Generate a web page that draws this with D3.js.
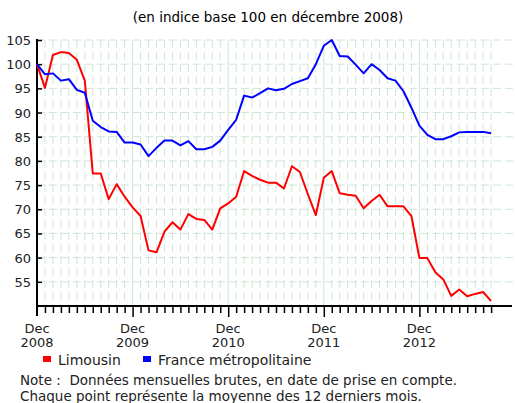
<!DOCTYPE html>
<html>
<head>
<meta charset="utf-8">
<script src="https://cdn.jsdelivr.net/npm/d3@7"></script>
<style>
  body { margin: 0; background: #fff; }
  svg { display: block; font-family: "DejaVu Sans", sans-serif; }
  text { white-space: pre; }
</style>
</head>
<body>
<div id="chart"></div>
<script>
// Indice mensuel, base 100 en décembre 2008 (déc. 2008 -> sept. 2013)
const limousin = [
    100, 95.1, 101.9, 102.5, 102.3, 100.9, 96.6, 77.4, 77.4, 72.1, 75.2, 72.6,
    70.4, 68.6, 61.5, 61.1, 65.4, 67.3, 65.8, 69.0, 68.0, 67.8, 65.8, 70.2,
    71.2, 72.6, 77.9, 76.9, 76.1, 75.5, 75.5, 74.3, 78.9, 77.7, 73.1, 68.8,
    76.5, 77.9, 73.3, 73.0, 72.8, 70.2, 71.7, 73.0, 70.6, 70.6, 70.6, 68.6,
    59.9, 59.9, 57.0, 55.5, 52.1, 53.4, 52.0, 52.5, 52.9, 51.0
];
const france = [
    100, 97.9, 98.1, 96.6, 96.9, 94.7, 94.1, 88.3, 87.0, 86.1, 86.0, 83.8,
    83.8, 83.4, 81.0, 82.7, 84.2, 84.2, 83.2, 84.1, 82.4, 82.4, 82.9, 84.2,
    86.4, 88.5, 93.5, 93.1, 94.0, 95.0, 94.6, 94.9, 95.9, 96.5, 97.1, 100.0,
    103.8, 105.0, 101.7, 101.6, 99.9, 98.1, 100.0, 98.8, 97.1, 96.6, 94.4, 91.0,
    87.3, 85.4, 84.5, 84.5, 85.1, 85.9, 86.0, 86.0, 86.0, 85.7
];
const yTicks = [55, 60, 65, 70, 75, 80, 85, 90, 95, 100, 105];
const yearTicks = [0, 12, 24, 36, 48];
const yearLabels = ["2008", "2009", "2010", "2011", "2012"];
const seriesNames = ["Limousin", "France métropolitaine"];
const seriesColors = ["#ff0000", "#0000ff"];

const W = 515, H = 403;
const plotLeft = 37, plotTop = 40, plotBottom = 306;

const svg = d3.select('#chart').append('svg')
    .attr('width', W).attr('height', H);

// échelles : un pas par mois
const x = d3.scaleLinear().domain([0, 12]).range([plotLeft, plotLeft + 95.6]);
const y = d3.scaleLinear().domain([50, 105]).range([plotBottom, plotTop]);
const months = d3.range(0, limousin.length);

// titre
svg.append('text')
    .attr('x', 268).attr('y', 22)
    .attr('text-anchor', 'middle')
    .style('font-size', '13.5px')
    .text('(en indice base 100 en décembre 2008)');

// grille
const grid = svg.append('g');
grid.selectAll('.hgrid')
    .data(yTicks)
    .enter().append('line')
    .attr('x1', plotLeft).attr('x2', W)
    .attr('y1', d => y(d)).attr('y2', d => y(d))
    .attr('stroke', '#cfe6d6').attr('stroke-width', 1)
    .attr('stroke-dasharray', '8,4');
grid.selectAll('.vgrid')
    .data(months.slice(1))
    .enter().append('line')
    .attr('x1', d => x(d)).attr('x2', d => x(d))
    .attr('y1', plotTop).attr('y2', plotBottom)
    .attr('stroke', '#cfe6d6').attr('stroke-width', 1)
    .attr('stroke-dasharray', d => d % 12 === 0 ? null : '8,4');

// axe Y
const yAxis = svg.append('g')
    .attr('transform', `translate(${plotLeft},0)`)
    .call(d3.axisRight(y).tickValues(yTicks).tickSize(5).tickFormat(''));
yAxis.select('.domain').remove();
yAxis.selectAll('line').attr('stroke', '#000').attr('stroke-width', 1.5);
svg.append('line')
    .attr('x1', plotLeft).attr('x2', plotLeft)
    .attr('y1', plotTop - 1).attr('y2', plotBottom + 10)
    .attr('stroke', '#000').attr('stroke-width', 2);
svg.append('g').selectAll('text')
    .data(yTicks)
    .enter().append('text')
    .attr('x', 31).attr('y', d => y(d) + 5)
    .attr('text-anchor', 'end')
    .style('font-size', '13px')
    .attr('fill', '#222')
    .text(d => d);

// axe X
const xAxis = svg.append('g')
    .attr('transform', `translate(0,${plotBottom})`)
    .call(d3.axisBottom(x).tickValues(months.slice(1)).tickSize(7).tickFormat(''));
xAxis.select('.domain').remove();
xAxis.selectAll('line')
    .attr('stroke', '#000').attr('stroke-width', 1.5)
    .attr('y2', d => d % 12 === 0 ? 11 : 7);
svg.append('line')
    .attr('x1', plotLeft - 1).attr('x2', 512)
    .attr('y1', plotBottom).attr('y2', plotBottom)
    .attr('stroke', '#000').attr('stroke-width', 2);

const xl = svg.append('g').selectAll('text')
    .data(yearTicks)
    .enter().append('text')
    .attr('x', d => x(d))
    .attr('text-anchor', 'middle')
    .style('font-size', '13px')
    .attr('fill', '#222');
xl.append('tspan').attr('x', d => x(d)).attr('y', 333).text('Dec');
xl.append('tspan').attr('x', d => x(d)).attr('y', 347).text((d, i) => yearLabels[i]);

// courbes
const line = d3.line()
    .x((d, i) => x(i))
    .y(d => y(d));
[limousin, france].forEach((s, k) => {
    svg.append('path')
        .datum(s)
        .attr('fill', 'none')
        .attr('stroke', seriesColors[k])
        .attr('stroke-width', 2)
        .attr('stroke-linejoin', 'round')
        .attr('d', line);
});

// légende
const legendX = [43, 143];
seriesNames.forEach((name, k) => {
    svg.append('rect')
        .attr('x', legendX[k]).attr('y', 356)
        .attr('width', 8).attr('height', 6)
        .attr('fill', seriesColors[k]);
    svg.append('text')
        .attr('x', legendX[k] + 15).attr('y', 365)
        .style('font-size', '14px')
        .attr('fill', '#222')
        .text(name);
});

// note
svg.append('text')
    .attr('x', 20).attr('y', 385)
    .style('font-size', '13.5px')
    .attr('fill', '#222')
    .text('Note :  Données mensuelles brutes, en date de prise en compte.');
svg.append('text')
    .attr('x', 20).attr('y', 401)
    .style('font-size', '13.5px')
    .attr('fill', '#222')
    .text('Chaque point représente la moyenne des 12 derniers mois.');
</script>
</body>
</html>
